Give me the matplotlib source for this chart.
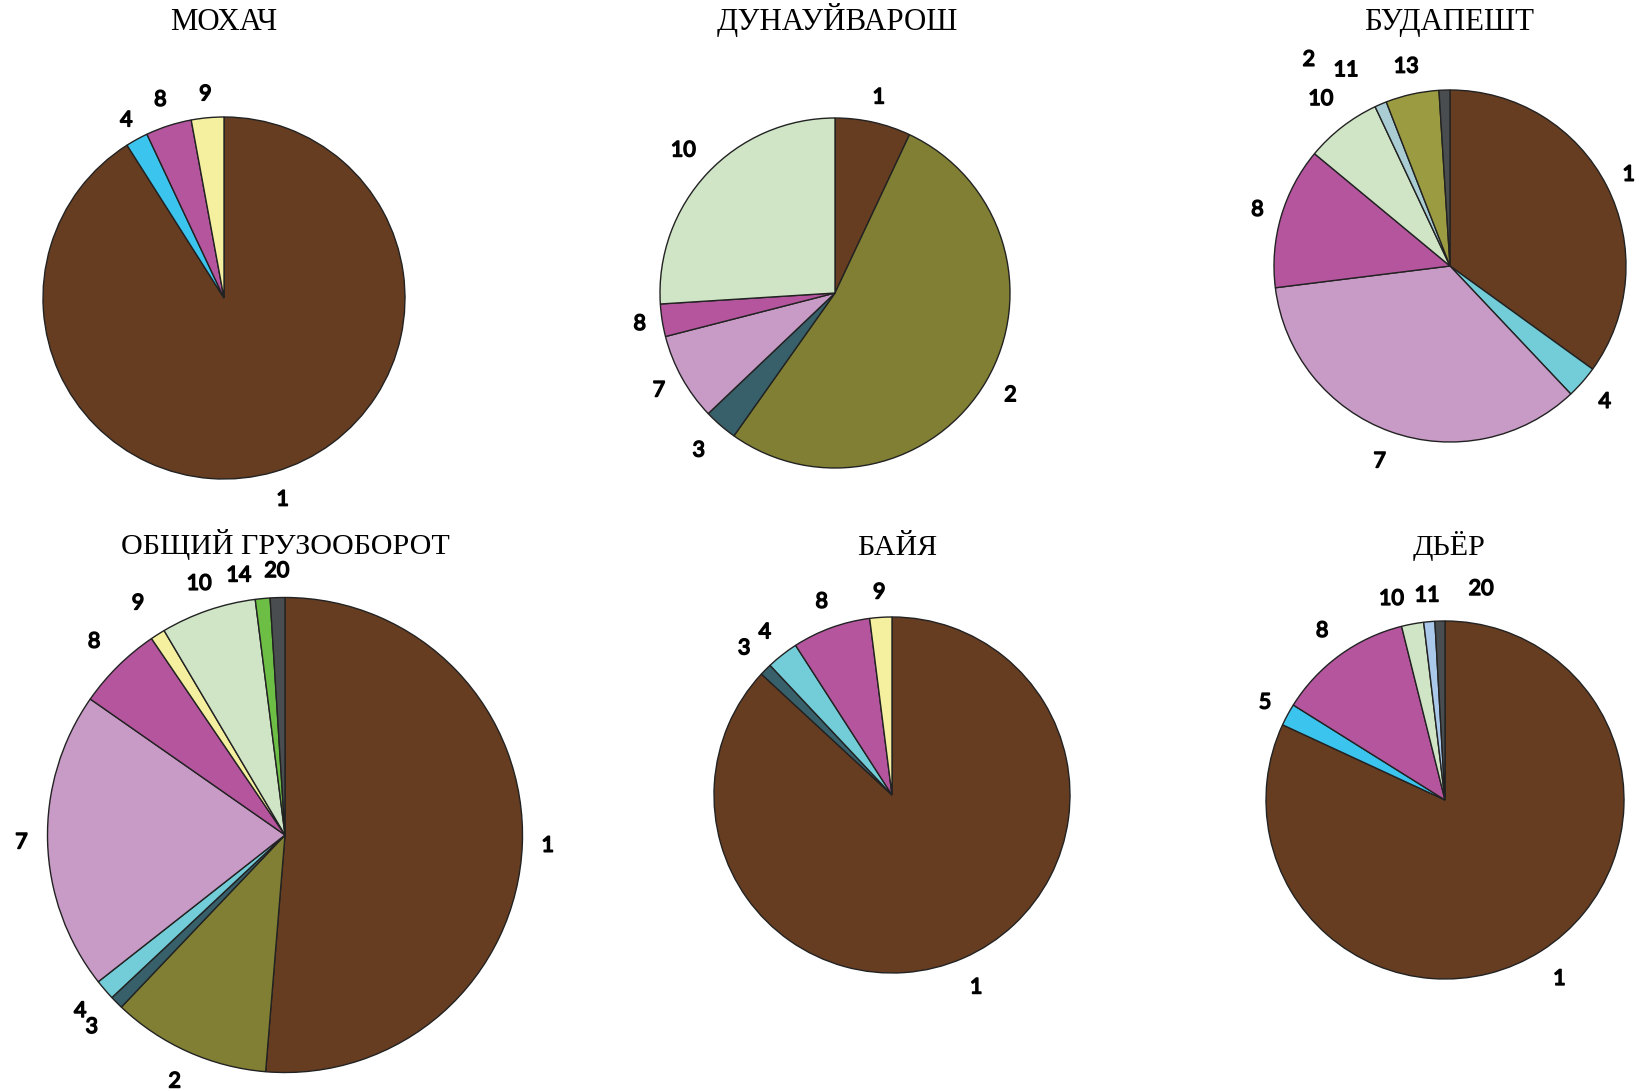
import numpy as np
import matplotlib.pyplot as plt
import matplotlib.patheffects as pe

W, H = 1644, 1091  # output size in pixels

# values (shares, %), clockwise from 12 o'clock
mohach_labels = ['1', '4', '8', '9']
mohach_values = [91.0, 2.0, 4.1, 2.9]

dunai_labels = ['1', '2', '3', '7', '8', '10']
dunai_values = [7.0, 52.8, 3.1, 8.1, 3.0, 26.0]

budapest_labels = ['1', '4', '7', '8', '10', '11', '13', '2']
budapest_values = [35.0, 3.0, 35.1, 13.0, 7.0, 1.1, 4.9, 1.0]

total_labels = ['1', '2', '3', '4', '7', '8', '9', '10', '14', '20']
total_values = [51.3, 10.8, 0.9, 1.4, 20.3, 5.8, 1.0, 6.5, 1.0, 1.0]

baja_labels = ['1', '3', '4', '8', '9']
baja_values = [86.8, 1.1, 2.9, 7.1, 2.0]

gyor_labels = ['1', '5', '8', '10', '11', '20']
gyor_values = [81.9, 2.0, 12.2, 2.0, 1.0, 0.9]

# colours
brown = '#673d21'
olive = '#807f33'
teal = '#37606a'
cyan = '#72cdd8'
sky = '#3bc4ee'
lilac = '#c79bc6'
magenta = '#b4559e'
yellow = '#f4f0a0'
mint = '#cfe5c6'
greyblue = '#a9cdd3'
lightblue = '#a9c8ea'
olive2 = '#9b9b41'
green = '#6dbe45'
dark = '#4a4d50'

fig = plt.figure(figsize=(W / 100, H / 100), dpi=100)
fig.patch.set_facecolor('white')

# only regular weights of Lato are around, so thicken the digits with a stroke
bold = [pe.withStroke(linewidth=1.1, foreground='black')]


def draw_pie(cx, cy, r, values, labels, colors, dists, nudges, title, tx, ty, tsize):
    # axes placed in pixel units so the pie radius is r pixels
    k = 1.6
    ax = fig.add_axes([(cx - k * r) / W, 1 - (cy + k * r) / H, 2 * k * r / W, 2 * k * r / H])
    wedges, _ = ax.pie(values, colors=colors, startangle=90, counterclock=False,
                       wedgeprops=dict(edgecolor='#222222', linewidth=1.0))
    ax.set_xlim(-k, k)
    ax.set_ylim(-k, k)
    ax.set_aspect('auto')
    ax.axis('off')
    for w, lab, d, n in zip(wedges, labels, dists, nudges):
        a = np.deg2rad((w.theta1 + w.theta2) / 2 + n)
        ax.text(d * np.cos(a), d * np.sin(a), lab, ha='center', va='center',
                fontsize=15.5, family='Lato', color='black', path_effects=bold)
    fig.text(tx / W, 1 - ty / H, title, ha='center', va='baseline',
             fontsize=tsize, family='Liberation Serif')


draw_pie(224, 298, 181, mohach_values, mohach_labels,
         [brown, sky, magenta, yellow],
         [1.16, 1.12, 1.15, 1.13], [0, 0, 0, 0],
         'МОХАЧ', 224, 30, 22.2)

draw_pie(835, 293, 175, dunai_values, dunai_labels,
         [brown, olive, teal, lilac, magenta, mint],
         [1.145, 1.16, 1.19, 1.15, 1.13, 1.19], [0, 0, 0, 0, 0, 0],
         'ДУНАУЙВАРОШ', 837, 30, 22.2)

draw_pie(1450, 266, 176, budapest_values, budapest_labels,
         [brown, cyan, lilac, magenta, mint, greyblue, olive2, dark],
         [1.14, 1.17, 1.18, 1.14, 1.2, 1.26, 1.16, 1.42],
         [0, 0, 0, 0, 0, 4.8, 0, 32.6],
         'БУДАПЕШТ', 1449, 30, 22.2)

draw_pie(285, 835, 237.5, total_values, total_labels,
         [brown, olive, teal, cyan, lilac, magenta, yellow, mint, green, dark],
         [1.107, 1.137, 1.147, 1.137, 1.11, 1.144, 1.155, 1.118, 1.11, 1.112],
         [0, 0, 0, 0, 0, 0, 0, 0, 4.7, 0],
         'ОБЩИЙ ГРУЗООБОРОТ', 285, 554, 21.6)

draw_pie(892, 795, 178, baja_values, baja_labels,
         [brown, teal, cyan, magenta, yellow],
         [1.18, 1.17, 1.16, 1.155, 1.14], [0, 0, 0, 0, 0],
         'БАЙЯ', 897, 555, 21.6)

draw_pie(1445, 800, 179, gyor_values, gyor_labels,
         [brown, sky, magenta, mint, lightblue, dark],
         [1.186, 1.143, 1.168, 1.163, 1.147, 1.196],
         [0, 0, 0, 4.5, 0, -11.3],
         'ДЬЁР', 1449, 555, 21.6)

fig.savefig('out.png', dpi=100, facecolor='white')
